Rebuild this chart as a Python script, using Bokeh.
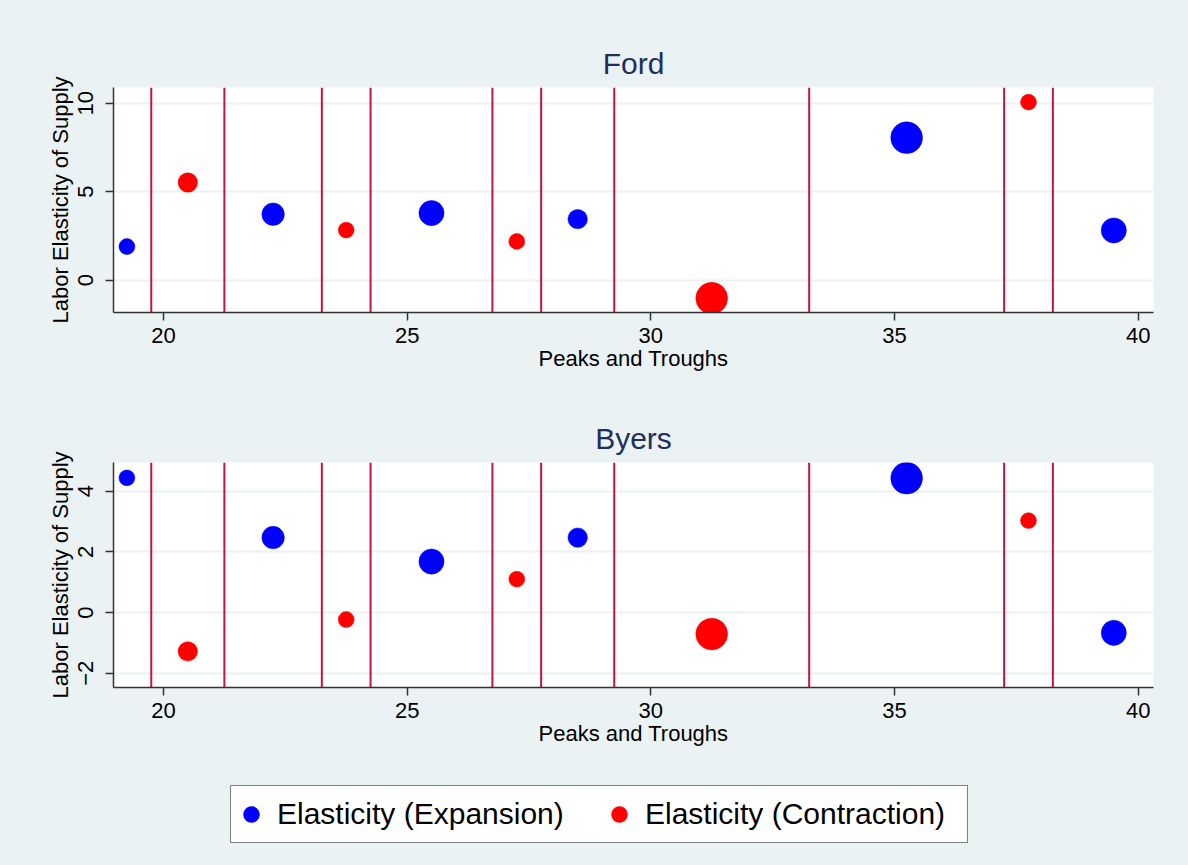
import numpy as np
from bokeh.plotting import figure
from bokeh.layouts import column
from bokeh.models import Span, FixedTicker, Legend, LegendItem, ColumnDataSource, Range1d
from bokeh.embed import file_html
from bokeh.resources import INLINE

# ---- data ----
x_expansion = [19.25, 22.25, 25.5, 28.5, 35.25, 39.5]
x_contraction = [20.5, 23.75, 27.25, 31.25, 37.75]
w_expansion = [1, 2, 2.5, 1.5, 4, 2.5]          # phase durations (marker weights)
w_contraction = [1.5, 1, 1, 4, 1]
ford_expansion = [1.90, 3.73, 3.79, 3.45, 8.05, 2.81]
ford_contraction = [5.52, 2.83, 2.19, -1.02, 10.06]
byers_expansion = [4.44, 2.47, 1.68, 2.47, 4.43, -0.67]
byers_contraction = [-1.28, -0.23, 1.10, -0.71, 3.03]
turning_points = [19.75, 21.25, 23.25, 24.25, 26.75, 27.75, 29.25, 33.25, 37.25, 38.25]
x_ticks = [20, 25, 30, 35, 40]
ford_ticks = [0, 5, 10]
byers_ticks = [-2, 0, 2, 4]

BG = "#EAF2F3"
FONT = "Liberation Sans"
TITLE_COLOR = "#1E2F5A"
LINE_COLOR = "#C8123F"
BLUE = "#0000FF"
RED = "#FF0000"
SIZE_SCALE = 15.9

W = 1188
LEFT = 113
FRAME_W = 1040


def sources():
    src_e = ColumnDataSource(dict(x=x_expansion, y=[0.0] * len(x_expansion),
                                  s=list(SIZE_SCALE * np.sqrt(np.array(w_expansion, float)))))
    src_c = ColumnDataSource(dict(x=x_contraction, y=[0.0] * len(x_contraction),
                                  s=list(SIZE_SCALE * np.sqrt(np.array(w_contraction, float)))))
    return src_e, src_c


def make_panel(title, y_exp, y_con, y_range, y_ticks, top, bottom, height):
    p = figure(width=W, height=height, output_backend="svg", toolbar_location=None,
               x_range=Range1d(18.975, 40.315), y_range=Range1d(*y_range),
               min_border_left=LEFT, min_border_right=W - LEFT - FRAME_W,
               min_border_top=top, min_border_bottom=bottom,
               background_fill_color="white", border_fill_color=BG,
               outline_line_color=None)
    p.title.text = title
    p.title.align = "center"
    p.title.text_font = FONT
    p.title.text_font_size = "30px"
    p.title.text_font_style = "normal"
    p.title.text_color = TITLE_COLOR
    p.title.standoff = 16

    p.xgrid.visible = False
    p.ygrid.grid_line_color = BG
    p.ygrid.grid_line_width = 2
    p.ygrid.ticker = FixedTicker(ticks=y_ticks)

    for ax in (p.xaxis[0], p.yaxis[0]):
        ax.axis_line_color = "#333333"
        ax.axis_line_width = 1.5
        ax.major_tick_line_color = "#333333"
        ax.major_tick_line_width = 1.5
        ax.major_tick_out = 8
        ax.major_tick_in = 0
        ax.minor_tick_out = 0
        ax.minor_tick_in = 0
        ax.major_label_text_font = FONT
        ax.major_label_text_font_size = "22px"
        ax.major_label_text_color = "black"
        ax.axis_label_text_font = FONT
        ax.axis_label_text_font_size = "22px"
        ax.axis_label_text_font_style = "normal"
        ax.axis_label_text_color = "black"

    p.xaxis[0].ticker = FixedTicker(ticks=x_ticks)
    p.xaxis[0].axis_label = "Peaks and Troughs"
    p.xaxis[0].major_label_standoff = 7
    p.xaxis[0].axis_label_standoff = 0

    p.yaxis[0].ticker = FixedTicker(ticks=y_ticks)
    p.yaxis[0].axis_label = "Labor Elasticity of Supply"
    p.yaxis[0].major_label_orientation = "vertical"
    p.yaxis[0].major_label_standoff = 12
    p.yaxis[0].axis_label_standoff = 3
    p.yaxis[0].major_label_overrides = {t: ("\u2212" + str(-t)) for t in y_ticks if t < 0}

    for xp in turning_points:
        p.add_layout(Span(location=xp, dimension="height", line_color=LINE_COLOR,
                          line_width=2, level="underlay"))

    src_e, src_c = sources()
    src_e.data["y"] = y_exp
    src_c.data["y"] = y_con
    p.scatter("x", "y", size="s", source=src_e, marker="circle",
              fill_color=BLUE, line_color=BLUE, line_width=0.5)
    p.scatter("x", "y", size="s", source=src_c, marker="circle",
              fill_color=RED, line_color=RED, line_width=0.5)
    return p


p1 = make_panel("Ford", ford_expansion, ford_contraction, (-1.825, 10.887), ford_ticks,
                top=87, bottom=83, height=395)
p2 = make_panel("Byers", byers_expansion, byers_contraction, (-2.471, 4.946), byers_ticks,
                top=67, bottom=73, height=365)

# ---- legend strip ----
p3 = figure(width=W, height=105, output_backend="svg", toolbar_location=None,
            x_axis_type=None, y_axis_type=None, min_border=0,
            background_fill_color=BG, border_fill_color=BG, outline_line_color=None)
p3.xgrid.visible = False
p3.ygrid.visible = False
le_src, lc_src = sources()
r_e = p3.scatter("x", "y", size="s", source=le_src, marker="circle",
                 fill_color=BLUE, line_color=BLUE, line_width=0.5, visible=False)
r_c = p3.scatter("x", "y", size="s", source=lc_src, marker="circle",
                 fill_color=RED, line_color=RED, line_width=0.5, visible=False)

legend = Legend(items=[LegendItem(label="Elasticity (Expansion)", renderers=[r_e]),
                       LegendItem(label="Elasticity (Contraction)", renderers=[r_c])],
                orientation="horizontal", location=(117, 22),
                padding=0, spacing=0, margin=0,
                glyph_width=40, glyph_height=56, label_height=56,
                label_width=322, label_standoff=6,
                label_text_font=FONT, label_text_font_size="30px", label_text_color="black",
                border_line_color="black", border_line_width=1.2,
                background_fill_color="white", background_fill_alpha=1.0)
p3.add_layout(legend, "center")

layout = column(p1, p2, p3, spacing=0, styles={"background-color": BG})
open("out.html", "w").write(file_html(layout, INLINE))
